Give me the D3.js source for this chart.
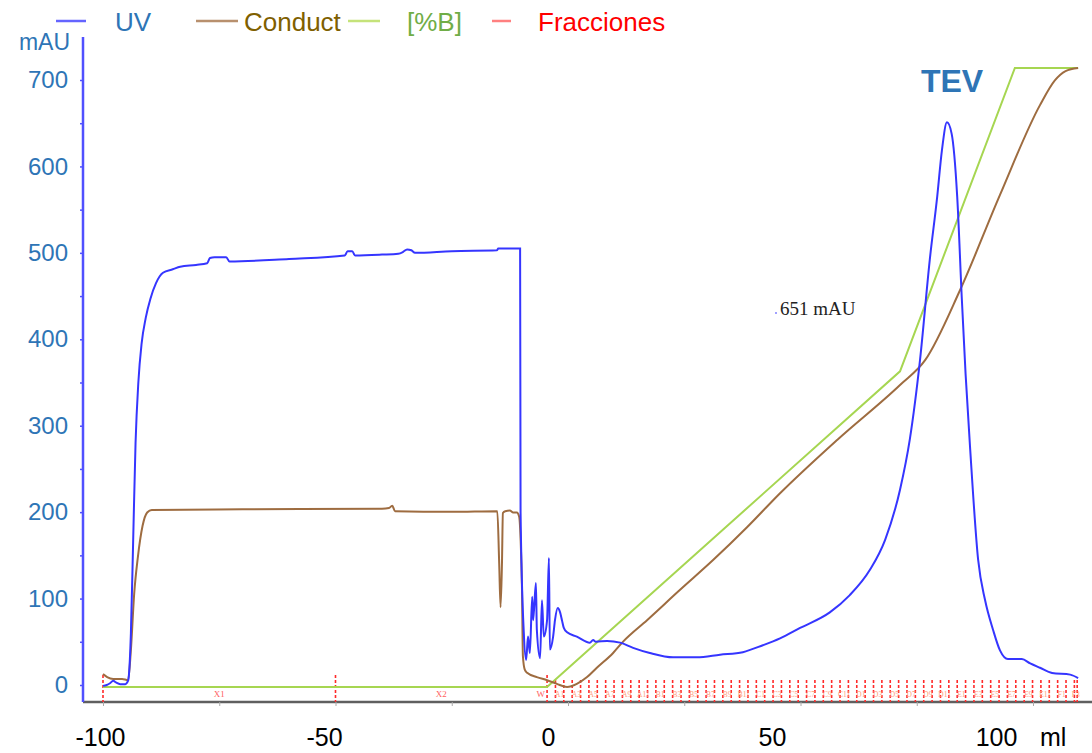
<!DOCTYPE html>
<html><head><meta charset="utf-8">
<script src="https://cdn.jsdelivr.net/npm/d3@7"></script>
<style>body{margin:0;background:#fff} svg{display:block}</style>
</head><body><svg id="c" width="1092" height="753"></svg>
<script>
// ---------- data ----------
const uvData = [
  [-100,-1],[-99.2,0],[-98.5,2],[-97.8,5],[-97.2,3],[-96.3,1],[-95.2,1],[-94.6,5],[-94.0,60],[-93.5,170],
  [-93.0,280],[-92.4,350],[-91.7,395],[-90.8,425],[-89.8,447],[-88.6,465],[-87.1,477],[-85,481],[-83.4,484],
  [-80,486],[-77.6,488],[-77.0,494],[-76.0,495],[-73.5,495],[-72.8,490],[-60,493],[-48.0,497],[-47.4,502],
  [-46.4,502],[-45.8,497],[-40,498],[-36.5,499],[-35.5,501],[-34.6,504],[-33.7,503],[-32.9,500],[-25,502],
  [-15.3,503],[-15.0,505],[-10.3,505],[-10.2,200],[-9.5,60],[-9.0,29],[-8.6,56],[-8.2,37],[-7.7,102],
  [-7.5,75],[-6.9,118],[-6.7,64],[-6.0,31],[-5.6,98],[-5.2,56],[-4.5,75],[-4.1,147],[-3.9,41],[-3.2,56],
  [-2.8,75],[-2.2,89],[-1.7,84],[-1.3,75],[-0.9,66],[-0.2,61],[1.9,56],[4.7,49],[5.4,52],[6.0,50],[8.4,51],
  [11.2,49],[14.0,43],[17.6,37],[22.6,32],[27.7,32],[32.7,35],[37.6,38],[41.9,46],[45.6,54],[49.9,66],
  [56.3,84],[60.6,104],[64.9,133],[68.2,168],[71.4,226],[73.5,284],[75.7,376],[77.8,492],[79.4,565],
  [80.4,618],[81.5,651],[82.5,638],[83.7,565],[84.7,446],[85.5,360],[86.5,272],[88.2,145],[89.7,98],
  [91.4,64],[92.9,40],[94.6,30],[97.6,30],[99.4,25],[101.5,20],[104.1,14],[108.0,12],[109.7,8]
];
// conductivity, % of maximum
const conductData = [
  [-100,2.1],[-99.1,1.6],[-97.8,1.3],[-95.9,1.3],[-94.6,1.1],[-94.0,6],[-93.3,15],[-92.5,21],[-91.5,26],
  [-90.5,28.2],[-89.5,28.6],[-70,28.7],[-40,28.8],[-38.5,28.9],[-37.8,29.3],[-37.2,28.4],[-25,28.3],
  [-15.2,28.4],[-14.8,20],[-14.5,12.9],[-14.2,20],[-14.0,28.1],[-13.5,28.4],[-12.5,28.5],[-11.8,28.2],
  [-11.0,28.2],[-10.5,27.5],[-10.2,24],[-9.9,16],[-9.7,5],[-9.3,2.8],[-8.8,2.3],[-6.7,1.6],[-4.5,1.1],
  [-2.4,0.5],[-0.2,0],[1.9,0.5],[4.1,1.6],[6.2,3.1],[9.7,5.5],[11.8,7.3],[17.0,10.8],[24.1,15.7],
  [31.2,20.5],[38.5,25.8],[45.6,31.3],[58,40],[71.4,48.8],[76.8,52.8],[84.3,64.1],[92.9,79.5],
  [101.5,94],[104.7,98],[107.0,99.5],[109.7,100]
];
// %B
const gradientData = [[-100,0],[-4.5,0],[71.4,51],[96.1,100],[109.7,100]];

// fractions (ml)
const wasteFractions = [-100, -50, -4.5];
const wasteLabels = ["X1", "X2"];
const tubeFractions = [
  -2.7,-0.9,0.9,2.7,4.5,6.3,8.1,9.9,11.7,13.5,15.3,17.1,18.9,20.7,22.5,24.3,26.1,27.9,29.7,31.5,
  33.3,35.1,36.9,38.7,40.5,42.3,44.1,45.9,47.7,49.5,51.3,53.1,54.9,56.7,58.5,60.3,62.1,63.9,65.7,
  67.5,69.3,71.1,72.9,74.7,76.5,78.3,80.1,81.9,83.7,85.5,87.3,89.1,90.9,92.7,94.5,96.3,98.1,99.9,
  101.7,103.5,105.3,107.1,108.9,109.5
];
const tubeLabels = ["A1","A3","A5","A7","A9","A11","B1","B3","B5","B7","B9","B11","C1","C3","C5","C7",
  "C9","C11","D1","D3","D5","D7","D9","D11","E1","E3","E5","E7","E9","E11","F1","F3"];

const yTicksMajor = [0,100,200,300,400,500,600,700];
const yTicksMinor = [0,50,100,150,200,250,300,350,400,450,500,550,600,650,700];
const xTicksMinor = [-100,-75,-50,-25,0,25,50,75,100];
const xTickLabels = [-100,-50,0,50,100];
const peakLabel = "651 mAU";

// ---------- scales ----------
const svg = d3.select("#c");
const x = d3.scaleLinear().domain([-100, 100]).range([103, 1033]);
const xLabel = d3.scaleLinear().domain([-100, 100]).range([100, 996]);
const yUV = d3.scaleLinear().domain([0, 700]).range([685, 80]);
const yPct = d3.scaleLinear().domain([0, 100]).range([687, 68]);
const axisX = 83, axisY = 702;

const blueText = "#2e75b6";

// ---------- axes ----------
svg.append("line").attr("x1", axisX).attr("x2", 1092).attr("y1", axisY).attr("y2", axisY)
  .attr("stroke", "#5f5f5f").attr("stroke-width", 2.5);
const gxT = svg.append("g").attr("transform", `translate(0,${axisY})`)
  .call(d3.axisBottom(x).tickValues(xTicksMinor).tickSize(4).tickFormat(""));
gxT.select(".domain").remove();
gxT.selectAll("line").attr("stroke", "#aaa");

const gxL = svg.append("g").attr("transform", `translate(0,${axisY})`)
  .call(d3.axisBottom(xLabel).tickValues(xTickLabels).tickSize(0).tickPadding(26).tickFormat(d => String(d)));
gxL.select(".domain").remove();
gxL.selectAll("text").attr("font-family", "Liberation Sans, Arial, sans-serif")
  .attr("font-size", 25).attr("fill", "#000");
svg.append("text").attr("x", xLabel(100) + 44).attr("y", axisY + 26).attr("dy", "0.71em")
  .attr("font-family", "Liberation Sans, Arial, sans-serif").attr("font-size", 25).attr("fill", "#000")
  .text("ml");

svg.append("line").attr("x1", axisX).attr("x2", axisX).attr("y1", 37).attr("y2", axisY)
  .attr("stroke", "#5050ff").attr("stroke-width", 2.5);
const gyT = svg.append("g").attr("transform", `translate(${axisX},0)`)
  .call(d3.axisLeft(yUV).tickValues(yTicksMinor).tickSize(3).tickFormat(""));
gyT.select(".domain").remove();
gyT.selectAll("line").attr("stroke", "#5050ff").attr("stroke-width", 1.5);

const gyL = svg.append("g").attr("transform", `translate(${axisX},0)`)
  .call(d3.axisLeft(yUV).tickValues(yTicksMajor).tickSize(0).tickPadding(15));
gyL.select(".domain").remove();
gyL.selectAll("text").attr("font-family", "Liberation Sans, Arial, sans-serif")
  .attr("font-size", 24).attr("fill", blueText);
svg.append("text").attr("x", 70).attr("y", 50).attr("text-anchor", "end")
  .attr("font-family", "Liberation Sans, Arial, sans-serif").attr("font-size", 23).attr("fill", blueText)
  .text("mAU");

// ---------- fractions ----------
const fr = svg.append("g");
fr.selectAll("line.w").data(wasteFractions).join("line")
  .attr("x1", d => x(d)).attr("x2", d => x(d)).attr("y1", 675).attr("y2", axisY)
  .attr("stroke", "#ff2a2a").attr("stroke-width", 1.6).attr("stroke-dasharray", "3,2");
fr.selectAll("line.t").data(tubeFractions).join("line")
  .attr("x1", d => x(d)).attr("x2", d => x(d)).attr("y1", 680).attr("y2", axisY)
  .attr("stroke", "#ff2a2a").attr("stroke-width", 1.6).attr("stroke-dasharray", "3,2");
fr.selectAll("text.w").data(wasteLabels).join("text")
  .attr("x", (d, i) => (x(wasteFractions[i]) + x(wasteFractions[i + 1])) / 2).attr("y", 697)
  .attr("text-anchor", "middle").attr("font-family", "Liberation Serif, serif").attr("font-size", 9)
  .attr("fill", "#ff6060").text(d => d);
fr.append("text").attr("x", x(wasteFractions[2]) - 2).attr("y", 697).attr("text-anchor", "end")
  .attr("font-family", "Liberation Serif, serif").attr("font-size", 9).attr("fill", "#ff6060").text("W");
fr.selectAll("text.t").data(tubeLabels).join("text")
  .attr("x", (d, i) => (x(tubeFractions[2 * i]) + x(tubeFractions[2 * i + 1])) / 2).attr("y", 697)
  .attr("text-anchor", "middle").attr("font-family", "Liberation Serif, serif").attr("font-size", 7.5)
  .attr("fill", "#ff9a7a").text(d => d);

// ---------- traces ----------
const lineUV = d3.line().x(d => x(d[0])).y(d => yUV(d[1])).curve(d3.curveMonotoneX);
const linePct = d3.line().x(d => x(d[0])).y(d => yPct(d[1])).curve(d3.curveMonotoneX);

svg.append("path").datum(gradientData).attr("d", d3.line().x(d => x(d[0])).y(d => yPct(d[1])))
  .attr("fill", "none").attr("stroke", "#a6d651").attr("stroke-width", 2);
svg.append("path").datum(conductData).attr("d", linePct)
  .attr("fill", "none").attr("stroke", "#9e6c40").attr("stroke-width", 2);
svg.append("path").datum(uvData).attr("d", lineUV)
  .attr("fill", "none").attr("stroke", "#3535ff").attr("stroke-width", 2);

// ---------- annotations ----------
svg.append("text").attr("x", 952).attr("y", 92).attr("text-anchor", "middle")
  .attr("font-family", "Liberation Sans, Arial, sans-serif").attr("font-weight", "bold")
  .attr("font-size", 32).attr("fill", blueText).text("TEV");
svg.append("circle").attr("cx", 776).attr("cy", 313).attr("r", 1).attr("fill", "#8080ff");
svg.append("text").attr("x", 780).attr("y", 315)
  .attr("font-family", "Liberation Serif, Times New Roman, serif").attr("font-size", 19)
  .attr("fill", "#222").text(peakLabel);

// ---------- legend ----------
const legend = [
  {name: "UV", line: "#6464ff", text: blueText, x1: 56, x2: 86, tx: 115},
  {name: "Conduct", line: "#b8906e", text: "#7f6000", x1: 196, x2: 238, tx: 244},
  {name: "[%B]", line: "#c5e37a", text: "#70ad47", x1: 348, x2: 380, tx: 407},
  {name: "Fracciones", line: "#ff8080", text: "#ff0000", x1: 492, x2: 511, tx: 538}
];
const lg = svg.append("g");
lg.selectAll("line").data(legend).join("line")
  .attr("x1", d => d.x1).attr("x2", d => d.x2).attr("y1", 21).attr("y2", 21)
  .attr("stroke", d => d.line).attr("stroke-width", 2.5);
lg.selectAll("text").data(legend).join("text")
  .attr("x", d => d.tx).attr("y", 31)
  .attr("font-family", "Liberation Sans, Arial, sans-serif").attr("font-size", 26)
  .attr("fill", d => d.text).text(d => d.name);
</script></body></html>
